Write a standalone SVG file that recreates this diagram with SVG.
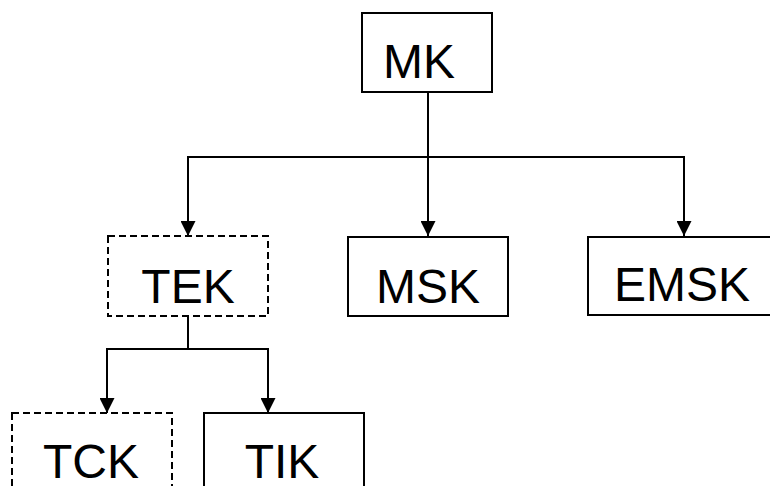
<svg xmlns="http://www.w3.org/2000/svg" width="770" height="486" viewBox="0 0 770 486">
<style>
.box{fill:#fff;stroke:#000;stroke-width:2}
.dash{stroke-dasharray:7 4}
.lbl{font-family:"Liberation Sans",Arial,sans-serif;font-size:48px;fill:#000;text-anchor:middle}
.conn{fill:none;stroke:#000;stroke-width:2}
</style>
<defs>
<marker id="arr" markerWidth="15" markerHeight="15" refX="15" refY="7.5" orient="auto" markerUnits="userSpaceOnUse" viewBox="0 0 15 15">
<path d="M0,0 L15,7.5 L0,15 Z" fill="#000"/>
</marker>
</defs>
<g id="connectors">
<path class="conn" d="M428,92 V236" marker-end="url(#arr)"/>
<path class="conn" d="M188,236 V157 H684 V236" marker-end="url(#arr)"/>
<path class="conn" d="M188,157 V236" marker-end="url(#arr)"/>
<path class="conn" d="M188,316 V349 H107 V413" marker-end="url(#arr)"/>
<path class="conn" d="M188,349 H268 V413" marker-end="url(#arr)"/>
</g>
<g id="MK"><rect class="box" x="362" y="13" width="130" height="79"/><text class="lbl" x="419" y="78">MK</text></g>
<g id="TEK"><rect class="box dash" x="108" y="236" width="160" height="80"/><text class="lbl" x="188" y="303">TEK</text></g>
<g id="MSK"><rect class="box" x="348" y="237" width="160" height="79"/><text class="lbl" x="428" y="303">MSK</text></g>
<g id="EMSK"><rect class="box" x="588" y="237" width="192" height="78"/><text class="lbl" x="682" y="301">EMSK</text></g>
<g id="TCK"><rect class="box dash" x="12" y="413" width="160" height="80"/><text class="lbl" x="91" y="478">TCK</text></g>
<g id="TIK"><rect class="box" x="204" y="413" width="160" height="80"/><text class="lbl" x="282" y="478">TIK</text></g>
</svg>
